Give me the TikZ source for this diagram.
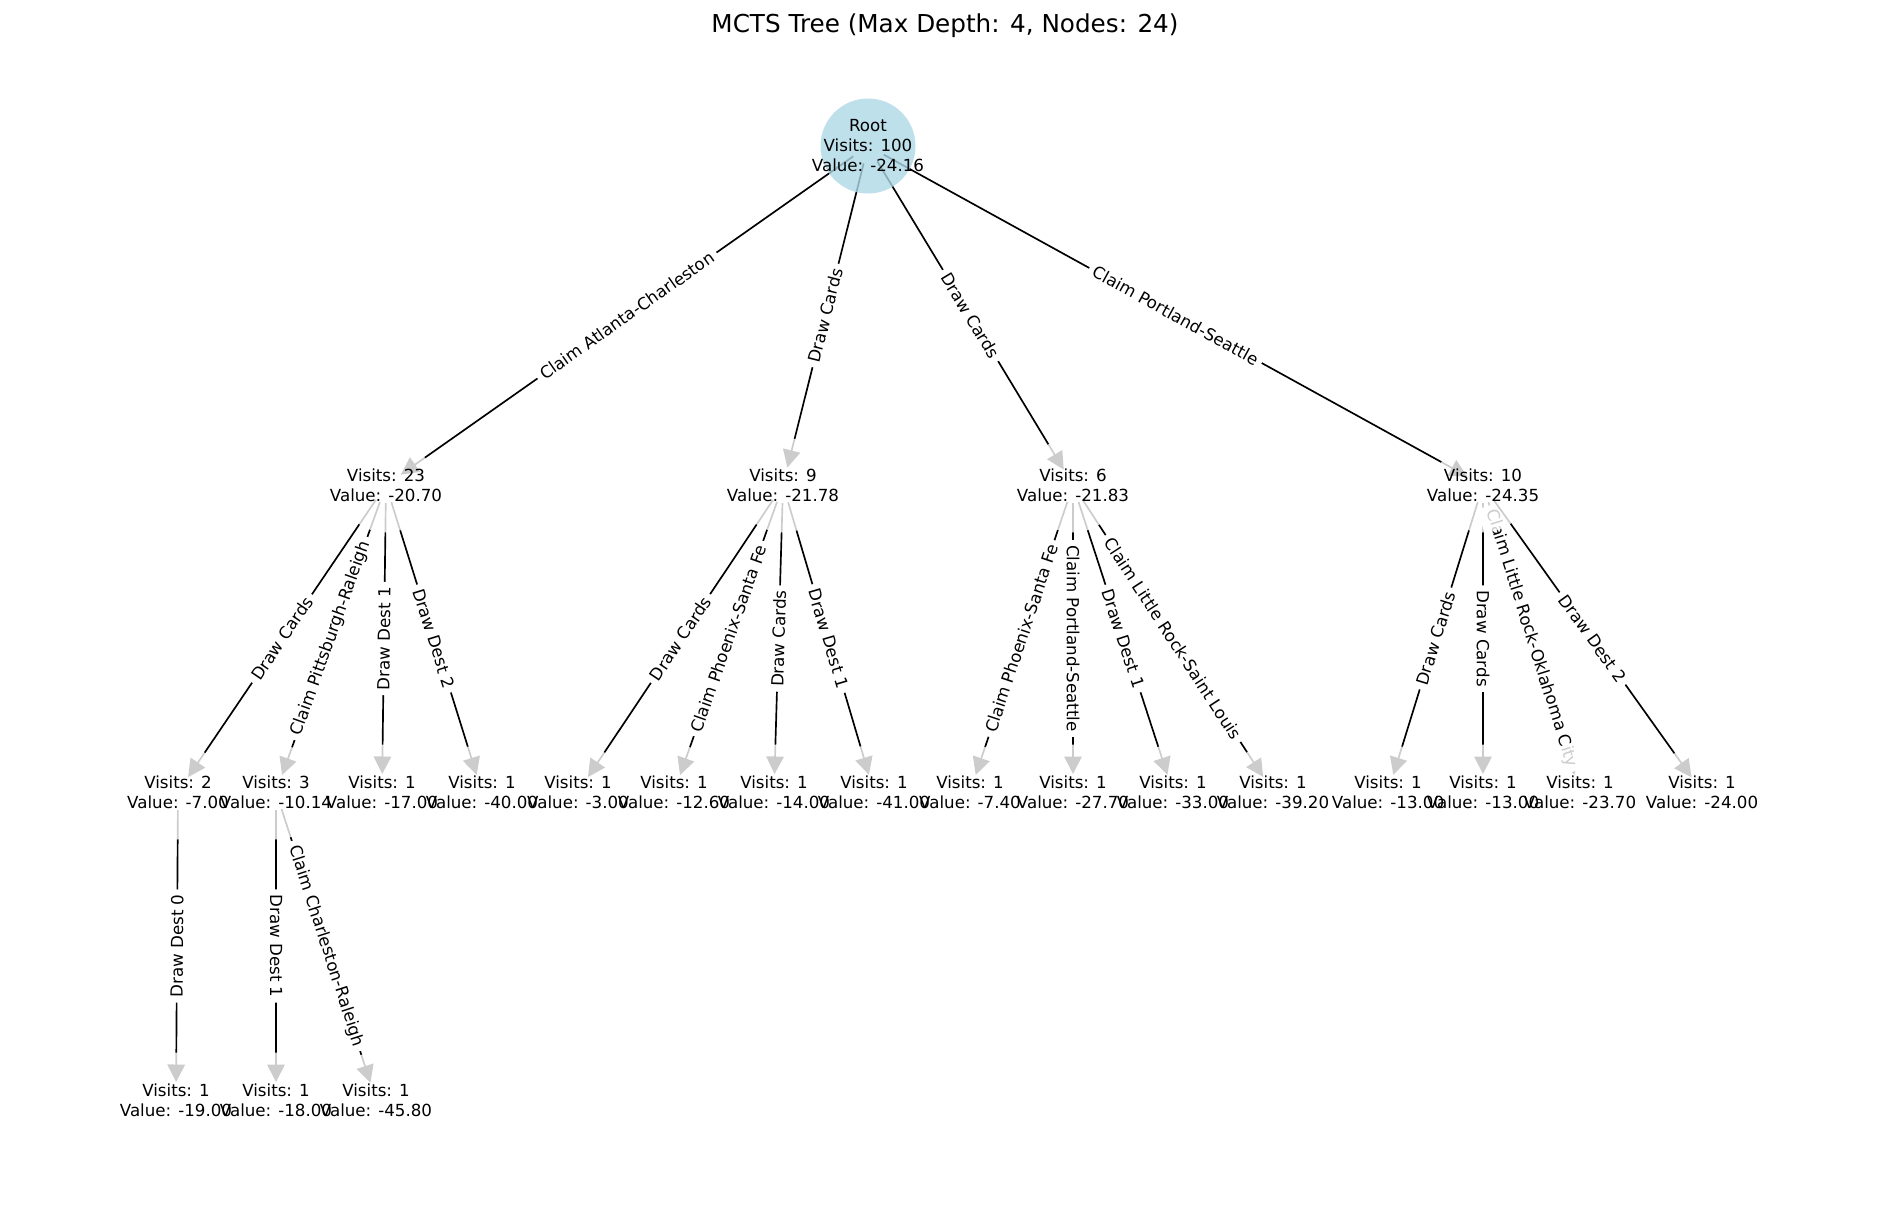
\documentclass[tikz,border=0pt]{standalone}
\usepackage{fontspec}
\setmainfont{DejaVu Sans}
\usepackage{tikz}
\usetikzlibrary{arrows.meta}

\definecolor{lightblue}{HTML}{ADD8E6}
\pgfdeclarelayer{edges}
\pgfdeclarelayer{shade}
\pgfsetlayers{edges,shade,main}

\begin{document}
\begin{tikzpicture}[x=0.6pt,y=-0.6pt,>={Triangle[length=10.5pt,width=10.5pt]},
                    font=\fontsize{10}{12}\selectfont]
  \tikzstyle{visit}=[align=center,inner sep=0pt]
  \tikzstyle{move}=[->,black,line width=1pt,shorten >=10.8pt,shorten <=10.8pt]
  \tikzstyle{act}=[sloped,midway,fill=white,rounded corners=3pt,inner sep=3pt]

  \useasboundingbox (0,0) rectangle (1890,1216);

  \node[font=\fontsize{14.8}{18}\selectfont,anchor=base] (T) at (945,33) {MCTS Tree (Max Depth: 4, Nodes: 24)};

  \node[visit] (R)  at (868,146)  {Root\\Visits: 100\\Value: -24.16};

  \node[visit] (A)  at (386,485)  {Visits: 23\\Value: -20.70};
  \node[visit] (B)  at (783,485)  {Visits: 9\\Value: -21.78};
  \node[visit] (C)  at (1073,485) {Visits: 6\\Value: -21.83};
  \node[visit] (D)  at (1483,485) {Visits: 10\\Value: -24.35};

  \node[visit] (A1) at (178,792)  {Visits: 2\\Value: -7.00};
  \node[visit] (A2) at (276,792)  {Visits: 3\\Value: -10.14};
  \node[visit] (A3) at (382,792)  {Visits: 1\\Value: -17.00};
  \node[visit] (A4) at (482,792)  {Visits: 1\\Value: -40.00};
  \node[visit] (B1) at (578,792)  {Visits: 1\\Value: -3.00};
  \node[visit] (B2) at (674,792)  {Visits: 1\\Value: -12.60};
  \node[visit] (B3) at (774,792)  {Visits: 1\\Value: -14.00};
  \node[visit] (B4) at (874,792)  {Visits: 1\\Value: -41.00};
  \node[visit] (C1) at (970,792)  {Visits: 1\\Value: -7.40};
  \node[visit] (C2) at (1073,792) {Visits: 1\\Value: -27.70};
  \node[visit] (C3) at (1173,792) {Visits: 1\\Value: -33.00};
  \node[visit] (C4) at (1273,792) {Visits: 1\\Value: -39.20};
  \node[visit] (D1) at (1388,792) {Visits: 1\\Value: -13.00};
  \node[visit] (D2) at (1483,792) {Visits: 1\\Value: -13.00};
  \node[visit] (D3) at (1580,792) {Visits: 1\\Value: -23.70};
  \node[visit] (D4) at (1702,792) {Visits: 1\\Value: -24.00};

  \node[visit] (E1) at (176,1100) {Visits: 1\\Value: -19.00};
  \node[visit] (E2) at (276,1100) {Visits: 1\\Value: -18.00};
  \node[visit] (E3) at (376,1100) {Visits: 1\\Value: -45.80};

  % faded discs under the labels
  \begin{pgfonlayer}{shade}
    \fill[lightblue,opacity=0.8] (R.center) circle (28.5pt);
    \foreach \n in {A,B,C,D,A1,A2,A3,A4,B1,B2,B3,B4,C1,C2,C3,C4,D1,D2,D3,D4,E1,E2,E3}
      \fill[white,opacity=0.8] (\n.center) circle (28.5pt);
  \end{pgfonlayer}

  \begin{pgfonlayer}{edges}
  \path (R.center)  edge[move] node[act] {Claim Atlanta-Charleston} (A.center)
                    edge[move] node[act] {Draw Cards}               (B.center)
                    edge[move] node[act] {Draw Cards}               (C.center)
                    edge[move] node[act] {Claim Portland-Seattle}   (D.center)
        (A.center)  edge[move] node[act] {Draw Cards}               (A1.center)
                    edge[move] node[act] {Claim Pittsburgh-Raleigh} (A2.center)
                    edge[move] node[act] {Draw Dest 1}              (A3.center)
                    edge[move] node[act] {Draw Dest 2}              (A4.center)
        (B.center)  edge[move] node[act] {Draw Cards}               (B1.center)
                    edge[move] node[act] {Claim Phoenix-Santa Fe}   (B2.center)
                    edge[move] node[act] {Draw Cards}               (B3.center)
                    edge[move] node[act] {Draw Dest 1}              (B4.center)
        (C.center)  edge[move] node[act] {Claim Phoenix-Santa Fe}   (C1.center)
                    edge[move] node[act] {Claim Portland-Seattle}   (C2.center)
                    edge[move] node[act] {Draw Dest 1}              (C3.center)
                    edge[move] node[act] {Claim Little Rock-Saint Louis} (C4.center)
        (D.center)  edge[move] node[act] {Draw Cards}               (D1.center)
                    edge[move] node[act] {Draw Cards}               (D2.center)
                    edge[move] node[act] {Claim Little Rock-Oklahoma City} (D3.center)
                    edge[move] node[act] {Draw Dest 2}              (D4.center)
        (A1.center) edge[move] node[act] {Draw Dest 0}              (E1.center)
        (A2.center) edge[move] node[act] {Draw Dest 1}              (E2.center)
                    edge[move] node[act] {Claim Charleston-Raleigh} (E3.center);
  \end{pgfonlayer}
\end{tikzpicture}
\end{document}
